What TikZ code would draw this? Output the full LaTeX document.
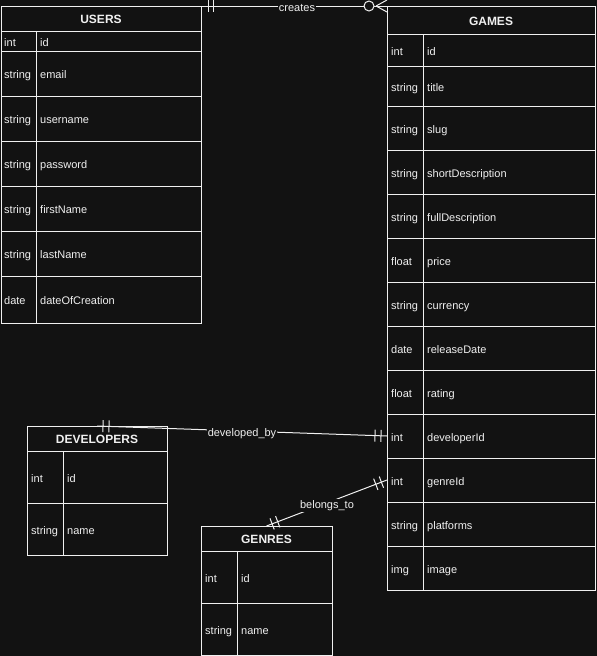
\documentclass[tikz,border=0pt]{standalone}
\usepackage{fontspec}
\setmainfont{Liberation Sans}
\usetikzlibrary{calc}
\definecolor{bg}{RGB}{18,18,18}
\definecolor{fg}{RGB}{240,240,240}
\begin{document}
\begin{tikzpicture}[x=1pt,y=-1pt,
  tbl/.style={draw=fg, line width=1pt, inner sep=0pt, outer sep=0pt, anchor=north west},
  grid/.style={draw=fg, line width=1pt},
  hdr/.style={font=\fontsize{12}{14}\selectfont\bfseries, text=fg, inner sep=0pt, anchor=base},
  cell/.style={font=\fontsize{11}{13}\selectfont, text=fg, anchor=base west, inner sep=0pt},
  lbl/.style={font=\fontsize{11}{13}\selectfont, text=fg, fill=bg, inner sep=1pt},
  rel/.style={draw=fg, line width=1pt},
  ermark/.style={draw=fg, line width=1pt}]
\fill[bg] (0,0) rectangle (597,656);
\useasboundingbox (0,0) rectangle (597,656);

% USERS
\node[tbl, minimum width=200pt, minimum height=317pt] (users) at (1,6) {};
\node[hdr] (usersT) at (101,23.5) {USERS};
\foreach \a/\b/\t/\f [count=\i] in {31/51/int/id, 51/96/string/email, 96/141/string/username, 141/186/string/password, 186/231/string/firstName, 231/276/string/lastName, 276/323/date/dateOfCreation}{
  \draw[grid] (1,\a) -- (201,\a);
  \draw[grid] (36,\a) -- (36,\b);
  \node[cell] (u-t\i) at (4,{(\a+\b)/2+5}) {\t};
  \node[cell] (u-f\i) at (40,{(\a+\b)/2+5}) {\f};
}

% GAMES
\node[tbl, minimum width=208pt, minimum height=584pt] (games) at (387,6) {};
\node[hdr] (gamesT) at (491,25) {GAMES};
\foreach \a/\b/\t/\f [count=\i] in {34/66/int/id, 66/106/string/title, 106/150/string/slug, 150/194/string/shortDescription, 194/238/string/fullDescription, 238/282/float/price, 282/326/string/currency, 326/370/date/releaseDate, 370/414/float/rating, 414/458/int/developerId, 458/502/int/genreId, 502/546/string/platforms, 546/590/img/image}{
  \draw[grid] (387,\a) -- (595,\a);
  \draw[grid] (423,\a) -- (423,\b);
  \node[cell] (g-t\i) at (391,{(\a+\b)/2+5}) {\t};
  \node[cell] (g-f\i) at (427,{(\a+\b)/2+5}) {\f};
  \coordinate (g-w\i) at (387,{(\a+\b)/2});
}

% DEVELOPERS
\node[tbl, minimum width=140pt, minimum height=129pt] (devs) at (27,426) {};
\node[hdr] (devsT) at (97,443.5) {DEVELOPERS};
\foreach \a/\b/\t/\f [count=\i] in {451/503/int/id, 503/555/string/name}{
  \draw[grid] (27,\a) -- (167,\a);
  \draw[grid] (63,\a) -- (63,\b);
  \node[cell] (d-t\i) at (31,{(\a+\b)/2+5}) {\t};
  \node[cell] (d-f\i) at (67,{(\a+\b)/2+5}) {\f};
}

% GENRES
\node[tbl, minimum width=131pt, minimum height=129pt] (genres) at (201,526) {};
\node[hdr] (genresT) at (266.5,543.5) {GENRES};
\foreach \a/\b/\t/\f [count=\i] in {551/603/int/id, 603/655/string/name}{
  \draw[grid] (201,\a) -- (332,\a);
  \draw[grid] (237,\a) -- (237,\b);
  \node[cell] (n-t\i) at (205,{(\a+\b)/2+5}) {\t};
  \node[cell] (n-f\i) at (241,{(\a+\b)/2+5}) {\f};
}

% creates
\coordinate (cA) at (users.north east);
\coordinate (cB) at (games.north west);
\draw[rel] (cA) -- (cB);
\draw[ermark] ($(cA)+(7,-6)$) -- ($(cA)+(7,6)$);
\draw[ermark] ($(cA)+(12,-6)$) -- ($(cA)+(12,6)$);
\draw[ermark] ($(cB)+(-11,0)$) -- ($(cB)+(0,-6)$);
\draw[ermark] ($(cB)+(-11,0)$) -- ($(cB)+(0,6)$);
\draw[ermark, fill=bg] ($(cB)+(-18,0)$) circle (5);
\node[lbl] (createsL) at (297,8) {creates};

% developed_by
\coordinate (dA) at (devs.north);
\coordinate (dB) at (g-w10);
\draw[rel] (dA) -- (dB);
\foreach \d in {6,12}{
  \draw[ermark] ($($(dA)!\d pt!(dB)$)!6pt!90:(dB)$) -- ($($(dA)!\d pt!(dB)$)!6pt!-90:(dB)$);
  \draw[ermark] ($($(dB)!\d pt!(dA)$)!6pt!90:(dA)$) -- ($($(dB)!\d pt!(dA)$)!6pt!-90:(dA)$);
}
\node[lbl] (devL) at (242,433.5) {developed\_by};

% belongs_to
\coordinate (bA) at (genres.north);
\coordinate (bB) at (g-w11);
\draw[rel] (bA) -- (bB);
\foreach \d in {6,12}{
  \draw[ermark] ($($(bA)!\d pt!(bB)$)!6pt!90:(bB)$) -- ($($(bA)!\d pt!(bB)$)!6pt!-90:(bB)$);
  \draw[ermark] ($($(bB)!\d pt!(bA)$)!6pt!90:(bA)$) -- ($($(bB)!\d pt!(bA)$)!6pt!-90:(bA)$);
}
\node[lbl] (belL) at (327,505.5) {belongs\_to};
\end{tikzpicture}
\end{document}
